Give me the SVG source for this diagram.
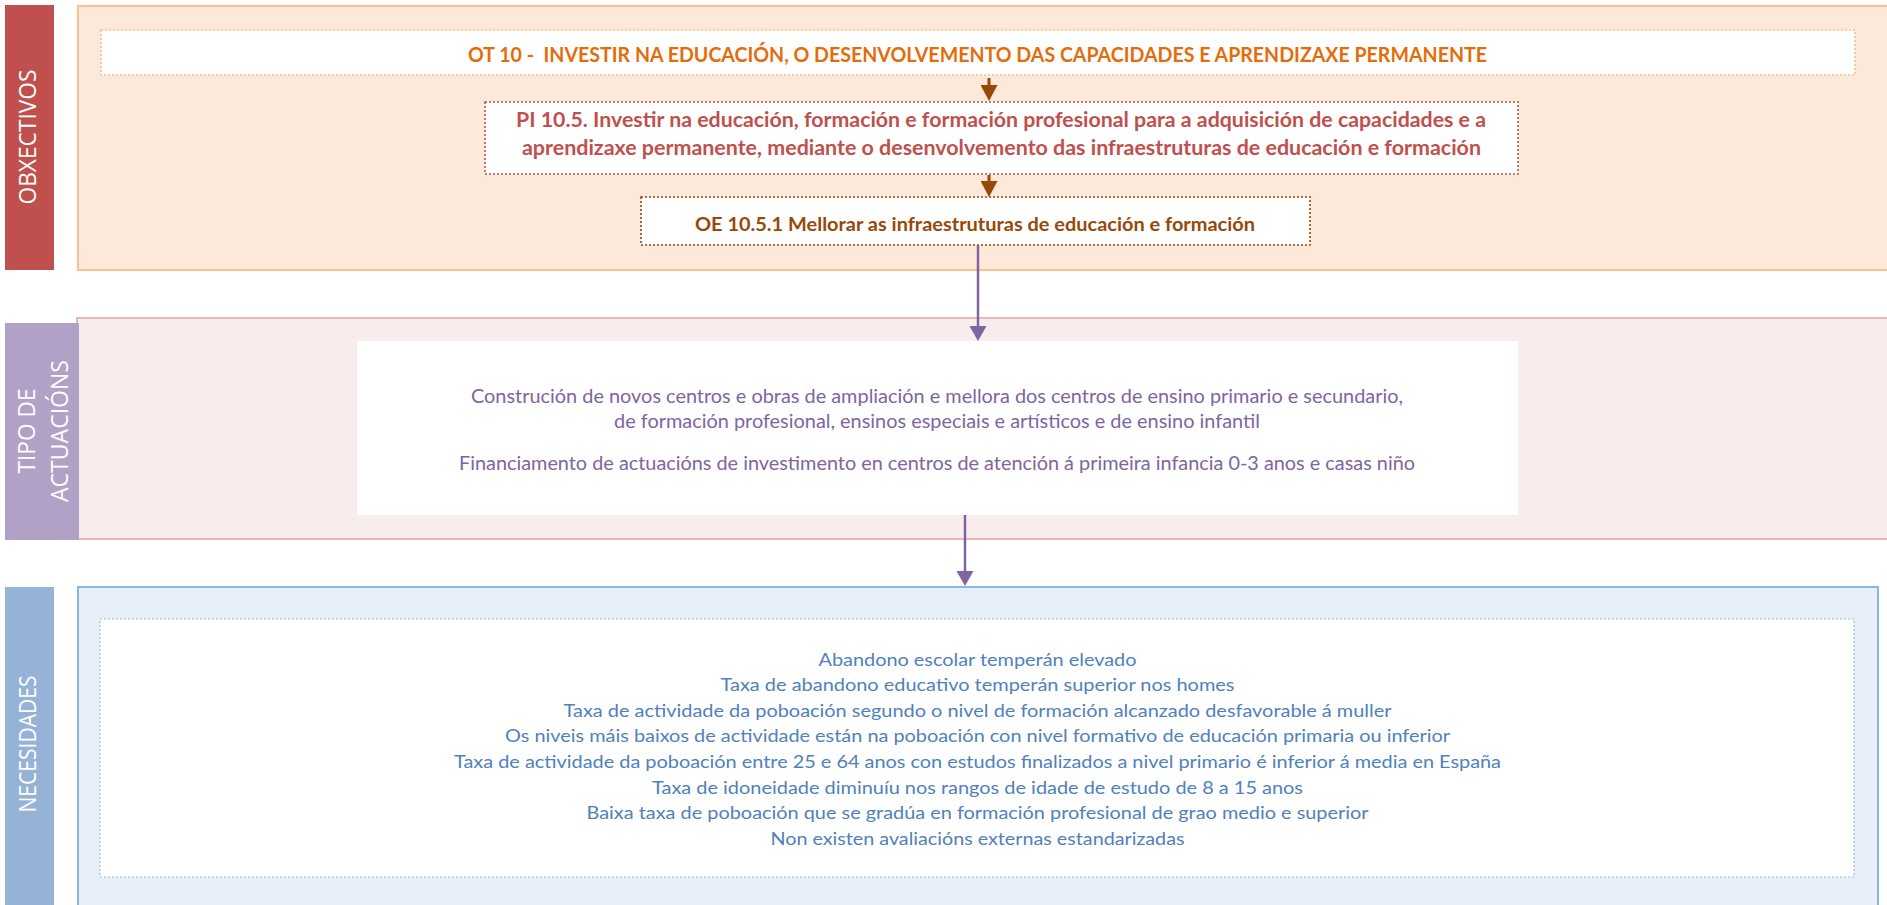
<svg xmlns="http://www.w3.org/2000/svg" width="1887" height="905" viewBox="0 0 1887 905">
<style>
.lbl{font-family:"Open Sans","DejaVu Sans",sans-serif;font-size:23px;fill:#ffffff;text-anchor:middle}
.cal{font-family:Lato,"Open Sans",sans-serif;text-anchor:middle}
.ot{font-size:20.5px;font-weight:bold;fill:#E46C0A}
.pi{font-size:20.5px;font-weight:bold;fill:#C0504D}
.oe{font-size:19.5px;font-weight:bold;fill:#984807}
.ta{font-size:18.5px;fill:#8064A2}
.ne{font-size:17.5px;fill:#4F81BD}
.dot{stroke-dasharray:2 2;stroke-width:1.6}
</style>
<defs>
<marker id="ahB" markerUnits="userSpaceOnUse" markerWidth="16" markerHeight="17" viewBox="0 0 16 17" refX="12" refY="8.5" orient="auto">
<path d="M0,0 L16,8.5 L0,17 z" fill="#984807"/>
</marker>
<marker id="ahP" markerUnits="userSpaceOnUse" markerWidth="15" markerHeight="17" viewBox="0 0 15 17" refX="11" refY="8.5" orient="auto">
<path d="M0,0 L15,8.5 L0,17 z" fill="#8064A2"/>
</marker>
</defs>
<rect width="1887" height="905" fill="#ffffff"/>

<g id="obxectivos">
<rect x="78" y="6" width="1815" height="264" fill="#FDE9D9" stroke="#FAC08F" stroke-width="2"/>
<rect x="5" y="5" width="49" height="265" fill="#C0504D"/>
<text class="lbl" transform="translate(36,137) rotate(-90)" textLength="135" lengthAdjust="spacingAndGlyphs">OBXECTIVOS</text>
</g>

<g id="ot10">
<rect x="101" y="30" width="1754" height="45" fill="#ffffff" stroke="#FAC08F" class="dot"/>
<text class="cal ot" x="977.5" y="62" textLength="1019" lengthAdjust="spacingAndGlyphs" xml:space="preserve">OT 10 -  INVESTIR NA EDUCACIÓN, O DESENVOLVEMENTO DAS CAPACIDADES E APRENDIZAXE PERMANENTE</text>
</g>

<g id="pi105">
<rect x="485" y="102" width="1033" height="72" fill="#ffffff" stroke="#C0504D" class="dot"/>
<text class="cal pi" x="1001" y="127" textLength="970" lengthAdjust="spacingAndGlyphs">PI 10.5. Investir na educación, formación e formación profesional para a adquisición de capacidades e a</text>
<text class="cal pi" x="1001.5" y="155" textLength="959" lengthAdjust="spacingAndGlyphs">aprendizaxe permanente, mediante o desenvolvemento das infraestruturas de educación e formación</text>
</g>

<g id="oe1051">
<rect x="641" y="197" width="669" height="48" fill="#ffffff" stroke="#984807" class="dot"/>
<text class="cal oe" x="975" y="231" textLength="560" lengthAdjust="spacingAndGlyphs">OE 10.5.1 Mellorar as infraestruturas de educación e formación</text>
</g>

<g id="tipo-actuacions">
<rect x="77" y="318" width="1815" height="221" fill="#F9ECEC" stroke="#E6B9B8" stroke-width="2"/>
<rect x="5" y="323" width="74" height="217" fill="#B2A1C7"/>
<text class="lbl" transform="translate(35,431) rotate(-90)" textLength="85" lengthAdjust="spacingAndGlyphs">TIPO DE</text>
<text class="lbl" transform="translate(68,431) rotate(-90)" textLength="142" lengthAdjust="spacingAndGlyphs">ACTUACIÓNS</text>
</g>

<g id="actuacions">
<rect x="357" y="341" width="1161" height="174" fill="#ffffff"/>
<text class="cal ta" x="937" y="402.5" textLength="932" lengthAdjust="spacingAndGlyphs">Construción de novos centros e obras de ampliación e mellora dos centros de ensino primario e secundario,</text>
<text class="cal ta" x="937" y="428" textLength="646" lengthAdjust="spacingAndGlyphs">de formación profesional, ensinos especiais e artísticos e de ensino infantil</text>
<text class="cal ta" x="937" y="469.5" textLength="956" lengthAdjust="spacingAndGlyphs">Financiamento de actuacións de investimento en centros de atención á primeira infancia 0-3 anos e casas niño</text>
</g>

<g id="necesidades">
<rect x="78" y="587" width="1800" height="330" fill="#E6EEF7" stroke="#8EB4E3" stroke-width="2"/>
<rect x="5" y="587" width="49" height="318" fill="#95B3D7"/>
<text class="lbl" transform="translate(36,744) rotate(-90)" textLength="137" lengthAdjust="spacingAndGlyphs">NECESIDADES</text>
</g>

<g id="lista-necesidades">
<rect x="100" y="619" width="1754" height="258" fill="#ffffff" stroke="#B9CDE5" class="dot"/>
<text class="cal ne" x="977.5" y="665.5" textLength="318" lengthAdjust="spacingAndGlyphs">Abandono escolar temperán elevado</text>
<text class="cal ne" x="977.5" y="691" textLength="514" lengthAdjust="spacingAndGlyphs">Taxa de abandono educativo temperán superior nos homes</text>
<text class="cal ne" x="977.5" y="716.7" textLength="828" lengthAdjust="spacingAndGlyphs">Taxa de actividade da poboación segundo o nivel de formación alcanzado desfavorable á muller</text>
<text class="cal ne" x="977.5" y="742.3" textLength="945" lengthAdjust="spacingAndGlyphs">Os niveis máis baixos de actividade están na poboación con nivel formativo de educación primaria ou inferior</text>
<text class="cal ne" x="977.5" y="768" textLength="1047" lengthAdjust="spacingAndGlyphs">Taxa de actividade da poboación entre 25 e 64 anos con estudos finalizados a nivel primario é inferior á media en España</text>
<text class="cal ne" x="977.5" y="793.5" textLength="651" lengthAdjust="spacingAndGlyphs">Taxa de idoneidade diminuíu nos rangos de idade de estudo de 8 a 15 anos</text>
<text class="cal ne" x="977.5" y="819" textLength="782" lengthAdjust="spacingAndGlyphs">Baixa taxa de poboación que se gradúa en formación profesional de grao medio e superior</text>
<text class="cal ne" x="977.5" y="844.7" textLength="414" lengthAdjust="spacingAndGlyphs">Non existen avaliacións externas estandarizadas</text>
</g>

<g id="connectors" fill="none">
<line x1="989" y1="78" x2="989" y2="97" stroke="#984807" stroke-width="3" marker-end="url(#ahB)"/>
<line x1="989" y1="175" x2="989" y2="193" stroke="#984807" stroke-width="3" marker-end="url(#ahB)"/>
<line x1="978" y1="245" x2="978" y2="337" stroke="#8064A2" stroke-width="2.5" marker-end="url(#ahP)"/>
<line x1="965" y1="515" x2="965" y2="582" stroke="#8064A2" stroke-width="2.5" marker-end="url(#ahP)"/>
</g>
</svg>
